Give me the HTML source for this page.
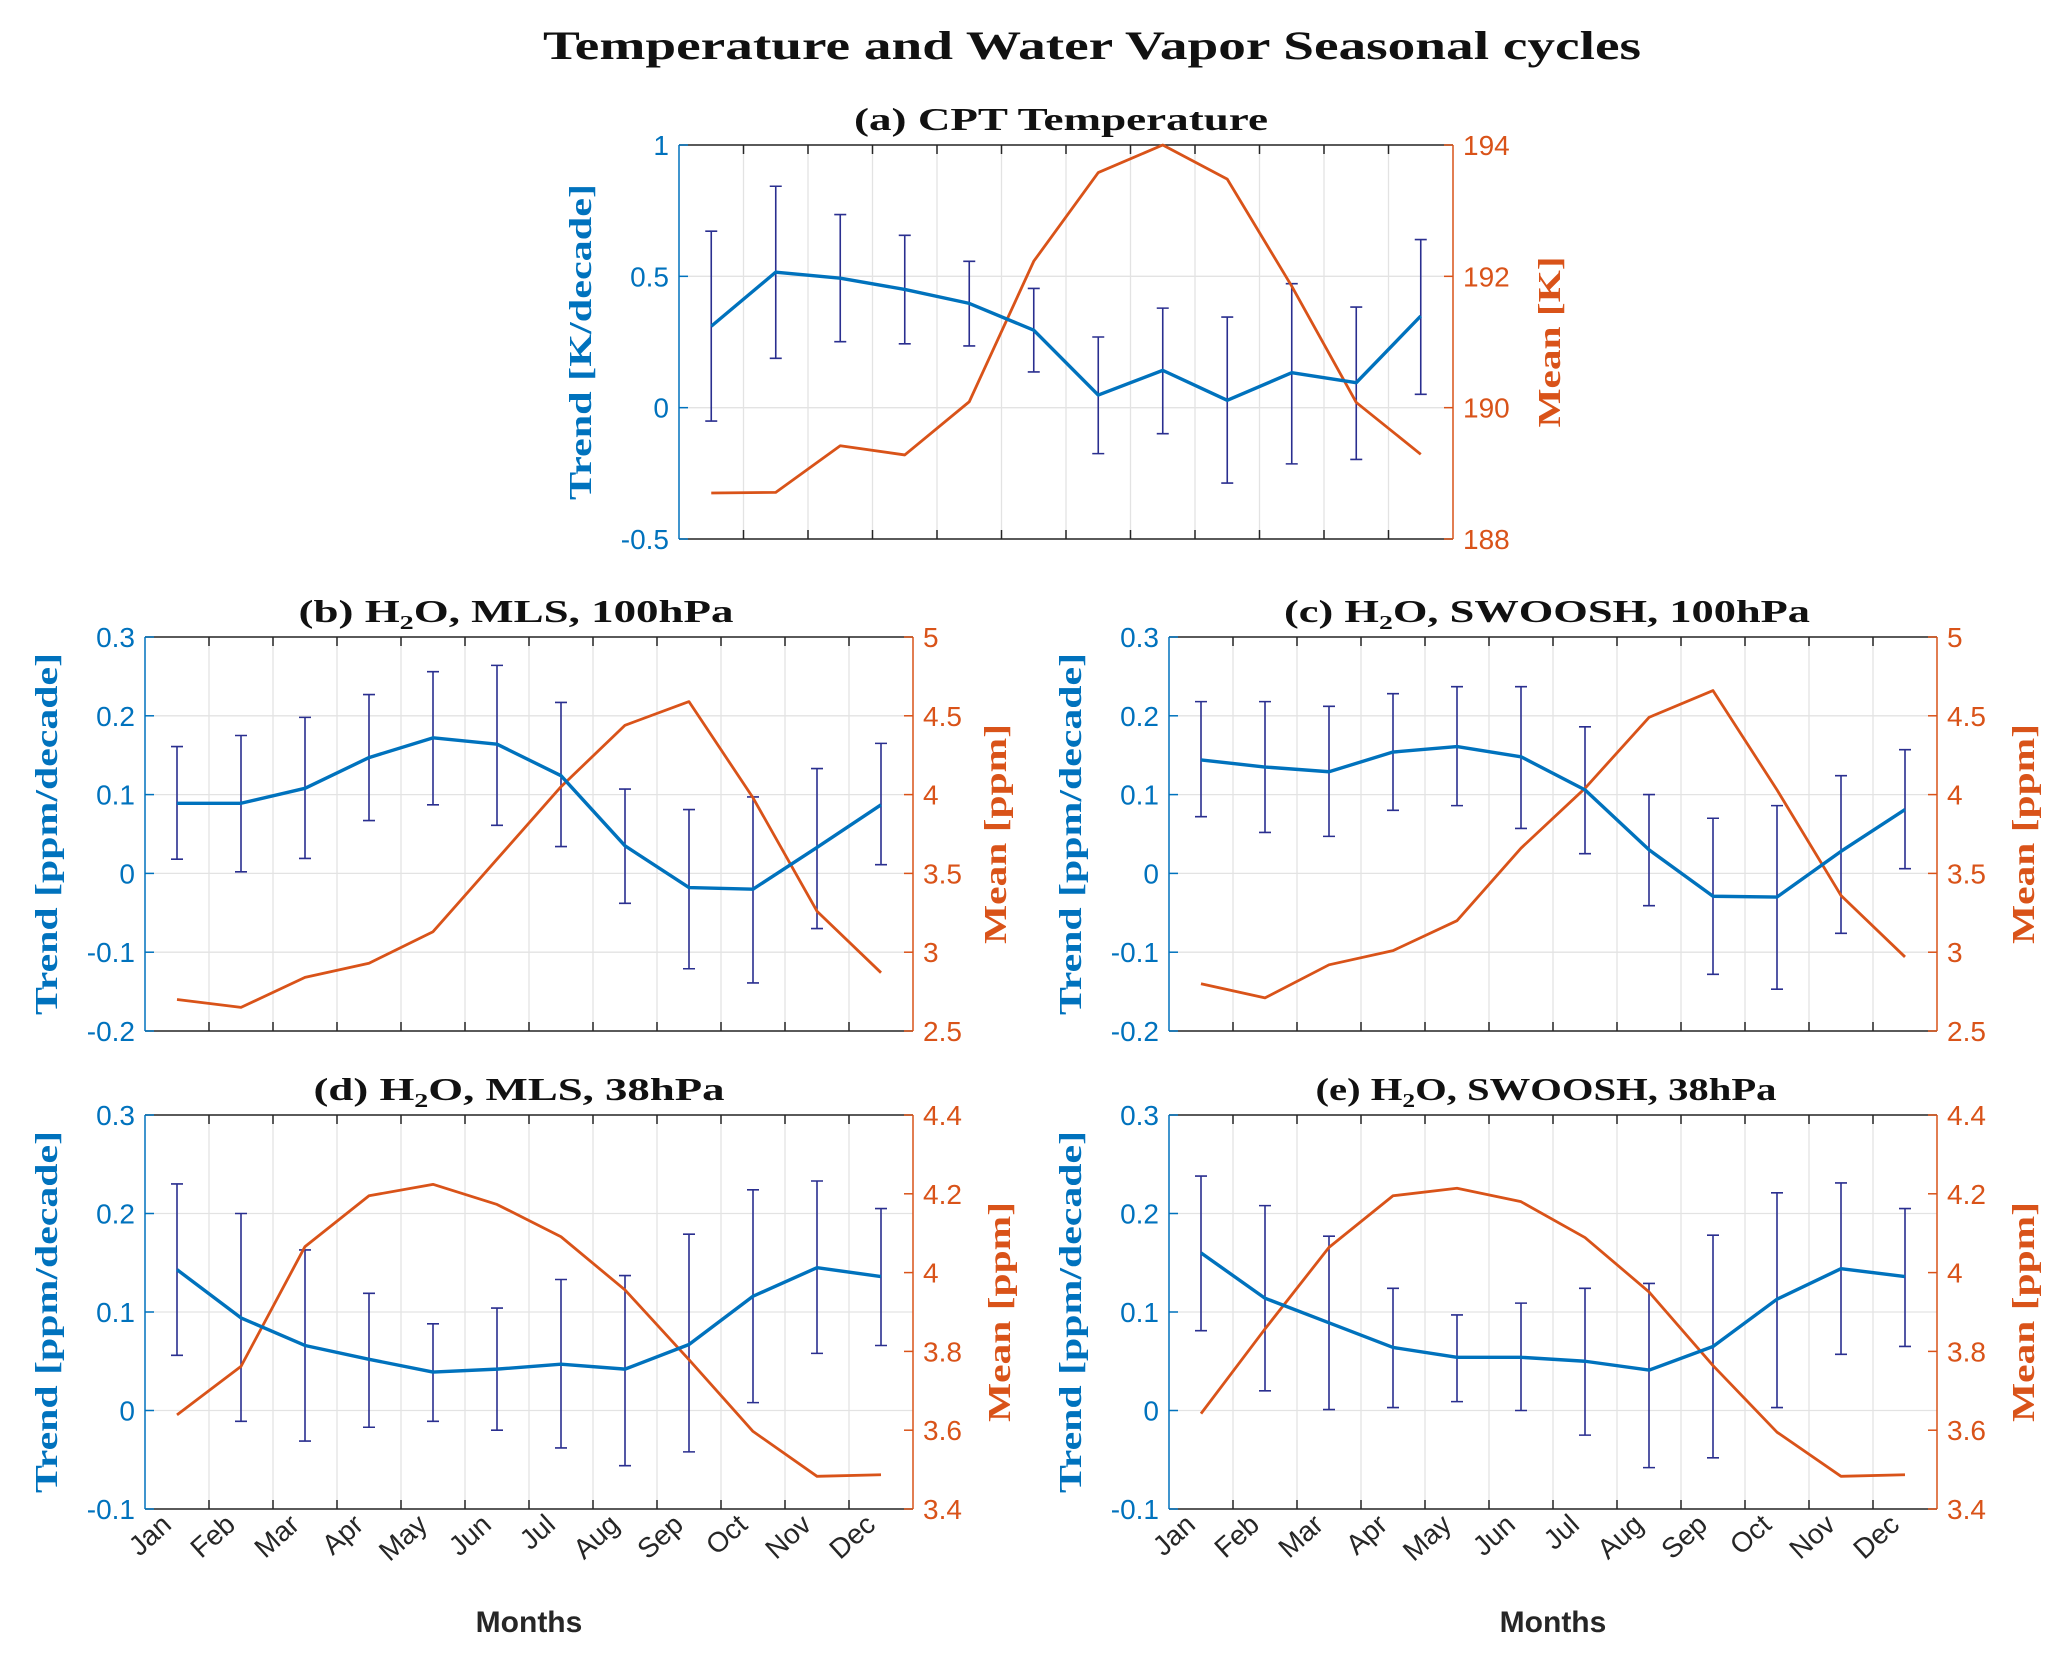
<!DOCTYPE html>
<html><head><meta charset="utf-8"><title>Temperature and Water Vapor Seasonal cycles</title>
<style>
html,body{margin:0;padding:0;background:#fff;}
svg{display:block;}
.serif{font-family:"Liberation Serif","DejaVu Serif",serif;font-weight:bold;}
.sans{font-family:"Liberation Sans","DejaVu Sans",sans-serif;}
</style></head>
<body>
<svg id="fig" xmlns="http://www.w3.org/2000/svg" width="2067" height="1656" viewBox="0 0 2067 1656">
<rect width="2067" height="1656" fill="#fff"/>
<text class="serif" x="1092" y="59" font-size="40" text-anchor="middle" fill="#111" textLength="1098" lengthAdjust="spacingAndGlyphs">Temperature and Water Vapor Seasonal cycles</text>
</svg>
<script>
const months = ["Jan","Feb","Mar","Apr","May","Jun","Jul","Aug","Sep","Oct","Nov","Dec"];

// (a) CPT Temperature
const aTrend = [0.31,0.516,0.493,0.450,0.397,0.295,0.048,0.142,0.028,0.133,0.095,0.349];
const aHi = [0.672,0.843,0.735,0.656,0.557,0.454,0.269,0.379,0.345,0.472,0.383,0.640];
const aLo = [-0.051,0.188,0.251,0.243,0.235,0.136,-0.175,-0.099,-0.287,-0.214,-0.197,0.051];
const aMean = [188.70,188.71,189.42,189.28,190.09,192.23,193.58,194.0,193.48,191.85,190.08,189.29];
const aLeftTicks = ["-0.5","0","0.5","1"];
const aRightTicks = ["188","190","192","194"];

// (b) H2O MLS 100hPa
const bTrend = [0.089,0.089,0.108,0.147,0.172,0.164,0.124,0.035,-0.018,-0.020,0.033,0.087];
const bHi = [0.161,0.175,0.198,0.227,0.256,0.264,0.217,0.107,0.081,0.097,0.133,0.165];
const bLo = [0.018,0.002,0.019,0.067,0.087,0.061,0.034,-0.038,-0.121,-0.139,-0.070,0.011];
const bMean = [2.70,2.65,2.84,2.93,3.13,3.59,4.05,4.44,4.59,3.98,3.26,2.87];

// (c) H2O SWOOSH 100hPa
const cTrend = [0.144,0.135,0.129,0.154,0.161,0.148,0.106,0.030,-0.029,-0.030,0.028,0.081];
const cHi = [0.218,0.218,0.212,0.228,0.237,0.237,0.186,0.100,0.070,0.086,0.124,0.157];
const cLo = [0.072,0.052,0.047,0.080,0.086,0.057,0.025,-0.041,-0.128,-0.147,-0.076,0.006];
const cMean = [2.80,2.71,2.92,3.01,3.20,3.66,4.04,4.49,4.66,4.03,3.36,2.97];
const bcLeftTicks = ["-0.2","-0.1","0","0.1","0.2","0.3"];
const bcRightTicks = ["2.5","3","3.5","4","4.5","5"];

// (d) H2O MLS 38hPa
const dTrend = [0.143,0.094,0.066,0.052,0.039,0.042,0.047,0.042,0.067,0.116,0.145,0.136];
const dHi = [0.230,0.200,0.163,0.119,0.088,0.104,0.133,0.137,0.179,0.224,0.233,0.205];
const dLo = [0.056,-0.011,-0.031,-0.017,-0.011,-0.020,-0.038,-0.056,-0.042,0.008,0.058,0.066];
const dMean = [3.639,3.762,4.066,4.195,4.224,4.173,4.091,3.956,3.779,3.597,3.483,3.487];

// (e) H2O SWOOSH 38hPa
const eTrend = [0.160,0.114,0.089,0.064,0.054,0.054,0.050,0.041,0.065,0.113,0.144,0.136];
const eHi = [0.238,0.208,0.177,0.124,0.097,0.109,0.124,0.129,0.178,0.221,0.231,0.205];
const eLo = [0.081,0.020,0.001,0.003,0.009,0.000,-0.025,-0.058,-0.048,0.003,0.057,0.065];
const eMean = [3.642,3.857,4.064,4.195,4.214,4.180,4.089,3.951,3.764,3.595,3.483,3.487];
const deLeftTicks = ["-0.1","0","0.1","0.2","0.3"];
const deRightTicks = ["3.4","3.6","3.8","4","4.2","4.4"];

const NS = "http://www.w3.org/2000/svg";
const fig = document.getElementById("fig");
const BLUE = "#0072BD", ORANGE = "#D95319", ERR = "#2a2f8f", AX = "#262626";

function mk(tag, attrs, parent) {
  const el = document.createElementNS(NS, tag);
  for (const k in attrs) el.setAttribute(k, attrs[k]);
  (parent || fig).appendChild(el);
  return el;
}

function drawPanel(p) {
  const g = mk("g", {});
  
  
  const L = p.x0, R = p.x1, T = p.y0, B = p.y1;
  const xs = v => L + (v / 12) * (R - L);
  const lmin = parseFloat(p.lt[0]), lmax = parseFloat(p.lt[p.lt.length - 1]);
  const rmin = parseFloat(p.rt[0]), rmax = parseFloat(p.rt[p.rt.length - 1]);
  const yl = v => B - (v - lmin) / (lmax - lmin) * (B - T);
  const yr = v => B - (v - rmin) / (rmax - rmin) * (B - T);

  for (let i = 1; i < 12; i++) {
    const gl = mk("line", {x1: xs(i), x2: xs(i), y1: T, y2: B, stroke: "#e3e3e3", "stroke-width": 1.3}, g);
    
    
  }
  p.lt.forEach(t => {
    const y = yl(parseFloat(t));
    const gl = mk("line", {x1: L, x2: R, y1: y, y2: y, stroke: "#e3e3e3", "stroke-width": 1.3}, g);
    
    
  });

  const top = mk("line", {x1: L, x2: R, y1: T, y2: T, stroke: AX, "stroke-width": 1.5}, g);
  
  
  const bot = mk("line", {x1: L, x2: R, y1: B, y2: B, stroke: AX, "stroke-width": 1.5}, g);
  
  
  const la = mk("line", {x1: L, x2: L, y1: T, y2: B, stroke: BLUE, "stroke-width": 1.5}, g);
  
  
  const ra = mk("line", {x1: R, x2: R, y1: T, y2: B, stroke: ORANGE, "stroke-width": 1.5}, g);
  
  

  for (let i = 1; i < 12; i++) {
    const tk = mk("line", {x1: xs(i), x2: xs(i), y1: B, y2: B - 9, stroke: AX, "stroke-width": 1.5}, g);
    
    
    const tk2 = mk("line", {x1: xs(i), x2: xs(i), y1: T, y2: T + 9, stroke: AX, "stroke-width": 1.5}, g);
    
    
  }
  p.lt.forEach(t => {
    const y = yl(parseFloat(t));
    const tk = mk("line", {x1: L, x2: L + 9, y1: y, y2: y, stroke: BLUE, "stroke-width": 1.5}, g);
    
    
    const tx = mk("text", {x: L - 10, y: y + 10, "text-anchor": "end", "font-size": 28, fill: BLUE, class: "sans"}, g);
    tx.textContent = t;
    
    
  });
  p.rt.forEach(t => {
    const y = yr(parseFloat(t));
    const tk = mk("line", {x1: R, x2: R - 9, y1: y, y2: y, stroke: ORANGE, "stroke-width": 1.5}, g);
    
    
    const tx = mk("text", {x: R + 10, y: y + 10, "text-anchor": "start", "font-size": 28, fill: ORANGE, class: "sans"}, g);
    tx.textContent = t;
    
    
  });

  for (let i = 0; i < 12; i++) {
    const x = xs(i + 0.5), yh = yl(p.hi[i]), ylo = yl(p.lo[i]);
    const eb = mk("path", {d: `M${x},${yh}V${ylo}M${x-6},${yh}H${x+6}M${x-6},${ylo}H${x+6}`, stroke: ERR, "stroke-width": 1.6, fill: "none"}, g);
    
    
  }
  const mp = p.mean.map((v, i) => `${xs(i + 0.5)},${yr(v)}`).join(" ");
  const ml = mk("polyline", {points: mp, fill: "none", stroke: ORANGE, "stroke-width": 2.8, "stroke-linejoin": "round"}, g);
  
  
  const tp = p.trend.map((v, i) => `${xs(i + 0.5)},${yl(v)}`).join(" ");
  const tl = mk("polyline", {points: tp, fill: "none", stroke: BLUE, "stroke-width": 3.4, "stroke-linejoin": "round"}, g);
  
  

  const cx = (L + R) / 2;
  const tt = mk("text", {x: cx + p.tdx, y: T - 15, "text-anchor": "middle", "font-size": 32, fill: "#111", class: "serif", textLength: p.tlen, lengthAdjust: "spacingAndGlyphs"}, g);
  
  
  if (p.h2o) {
    const s1 = mk("tspan", {}, tt); s1.textContent = p.title[0] + " H";
    const s2 = mk("tspan", {"font-size": 20, dy: 7}, tt); s2.textContent = "2";
    const s3 = mk("tspan", {dy: -7}, tt); s3.textContent = "O, " + p.title[1];
  } else {
    tt.textContent = p.title;
  }

  const cy = (T + B) / 2;
  const lyl = mk("text", {x: L - 99, y: cy, "text-anchor": "middle", "dominant-baseline": "central", "font-size": 32, fill: BLUE, class: "serif", transform: `rotate(-90 ${L - 99} ${cy})`, textLength: p.llen, lengthAdjust: "spacingAndGlyphs"}, g);
  lyl.textContent = p.ylab;
  
  
  const ryl = mk("text", {x: R + p.rlx, y: cy, "text-anchor": "middle", "dominant-baseline": "central", "font-size": 32, fill: ORANGE, class: "serif", transform: `rotate(-90 ${R + p.rlx} ${cy})`, textLength: p.rlen, lengthAdjust: "spacingAndGlyphs"}, g);
  ryl.textContent = p.rlab;
  
  

  if (p.months) {
    months.forEach((m, i) => {
      const x = xs(i + 0.5) - 4, y = B + 18;
      const ml2 = mk("text", {x: x, y: y, "text-anchor": "end", "font-size": 28, fill: AX, class: "sans", transform: `rotate(-42 ${x} ${y})`}, g);
      ml2.textContent = m;
      
      
    });
    const xl = mk("text", {x: cx, y: 1632, "text-anchor": "middle", "font-size": 30, "font-weight": "bold", fill: AX, class: "sans"}, g);
    xl.textContent = "Months";
    
    
  }
}

drawPanel({name: "panel-a-cpt-temperature", x0: 679, x1: 1453, y0: 145, y1: 539, lt: aLeftTicks, rt: aRightTicks,
  trend: aTrend, hi: aHi, lo: aLo, mean: aMean, title: "(a) CPT Temperature", tlen: 414, tdx: -5, ylab: "Trend [K/decade]", rlab: "Mean [K]", llen: 316, rlen: 171, rlx: 96, months: false});
drawPanel({name: "panel-b-mls-100hpa", x0: 145, x1: 913, y0: 637, y1: 1031, lt: bcLeftTicks, rt: bcRightTicks,
  trend: bTrend, hi: bHi, lo: bLo, mean: bMean, h2o: true, title: ["(b)", "MLS, 100hPa"], tlen: 435, tdx: -13, ylab: "Trend [ppm/decade]", rlab: "Mean [ppm]", llen: 362, rlen: 220, rlx: 82, months: false});
drawPanel({name: "panel-c-swoosh-100hpa", x0: 1169, x1: 1937, y0: 637, y1: 1031, lt: bcLeftTicks, rt: bcRightTicks,
  trend: cTrend, hi: cHi, lo: cLo, mean: cMean, h2o: true, title: ["(c)", "SWOOSH, 100hPa"], tlen: 526, tdx: -6, ylab: "Trend [ppm/decade]", rlab: "Mean [ppm]", llen: 362, rlen: 220, rlx: 86, months: false});
drawPanel({name: "panel-d-mls-38hpa", x0: 145, x1: 913, y0: 1115, y1: 1509, lt: deLeftTicks, rt: deRightTicks,
  trend: dTrend, hi: dHi, lo: dLo, mean: dMean, h2o: true, title: ["(d)", "MLS, 38hPa"], tlen: 411, tdx: -10, ylab: "Trend [ppm/decade]", rlab: "Mean [ppm]", llen: 362, rlen: 220, rlx: 86, months: true});
drawPanel({name: "panel-e-swoosh-38hpa", x0: 1169, x1: 1937, y0: 1115, y1: 1509, lt: deLeftTicks, rt: deRightTicks,
  trend: eTrend, hi: eHi, lo: eLo, mean: eMean, h2o: true, title: ["(e)", "SWOOSH, 38hPa"], tlen: 461, tdx: -7, ylab: "Trend [ppm/decade]", rlab: "Mean [ppm]", llen: 362, rlen: 220, rlx: 86, months: true});
</script>
</body></html>
